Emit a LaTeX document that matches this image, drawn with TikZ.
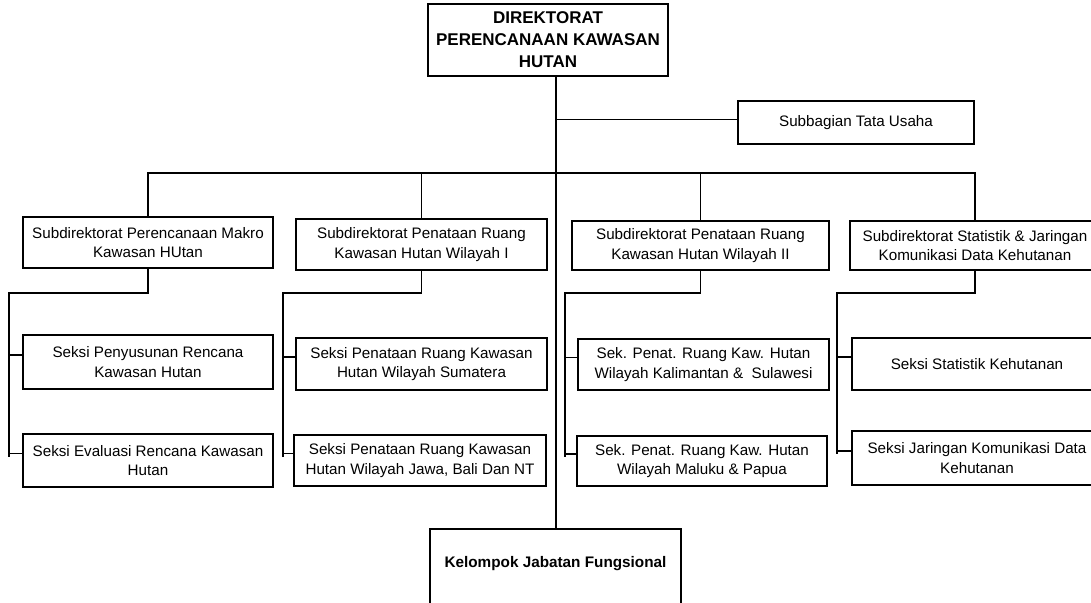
\documentclass[tikz,border=0pt]{standalone}
\usepackage{fontspec}
\setmainfont{Liberation Sans}
\begin{document}
\begin{tikzpicture}[x=1pt,y=-1pt,
  box/.style={draw, line width=1.2pt, inner sep=0pt, align=center,
    font=\fontsize{15.2}{19.8}\selectfont},
  topbox/.style={box, font=\fontsize{17}{22}\selectfont\bfseries},
  conn/.style={line width=1.2pt}]
\useasboundingbox (0,0) rectangle (1091,602);
% top
\node[topbox, minimum width=240pt, minimum height=72pt] (top) at (548,40) {DIREKTORAT\\PERENCANAAN KAWASAN\\HUTAN};
\node[box, minimum width=236pt, minimum height=43pt] (sub) at (856,122.5) {Subbagian Tata Usaha};
% subdirectorates
\node[box, minimum width=250pt, minimum height=51pt] (b1) at (148,242.5) {Subdirektorat Perencanaan Makro\\Kawasan HUtan};
\node[box, minimum width=251pt, minimum height=51pt] (b2) at (421.5,244.5) {Subdirektorat Penataan Ruang\\Kawasan Hutan Wilayah I};
\node[box, minimum width=257pt, minimum height=49pt] (b3) at (700.5,245.5) {Subdirektorat Penataan Ruang\\Kawasan Hutan Wilayah II};
\node[box, minimum width=250pt, minimum height=49pt] (b4) at (975,245.5) {Subdirektorat Statistik \& Jaringan\\Komunikasi Data Kehutanan};
% sections
\node[box, minimum width=250pt, minimum height=54pt] (s1a) at (148,362) {Seksi Penyusunan Rencana\\Kawasan Hutan};
\node[box, minimum width=250pt, minimum height=53pt] (s1b) at (148,460.5) {Seksi Evaluasi Rencana Kawasan\\Hutan};
\node[box, minimum width=251pt, minimum height=52pt] (s2a) at (421.5,364) {Seksi Penataan Ruang Kawasan\\Hutan Wilayah Sumatera};
\node[box, minimum width=252pt, minimum height=51pt] (s2b) at (420,460.5) {Seksi Penataan Ruang Kawasan\\Hutan Wilayah Jawa, Bali Dan NT};
\node[box, minimum width=251pt, minimum height=51pt] (s3a) at (703.5,364.5) {Sek. Penat. Ruang Kaw. Hutan\\Wilayah Kalimantan \&\ \ Sulawesi};
\node[box, minimum width=250pt, minimum height=50pt] (s3b) at (702,461) {Sek. Penat. Ruang Kaw. Hutan\\Wilayah Maluku \& Papua};
\node[box, minimum width=250pt, minimum height=52pt] (s4a) at (977,364) {Seksi Statistik Kehutanan};
\node[box, minimum width=250pt, minimum height=54pt] (s4b) at (977,458) {Seksi Jaringan Komunikasi Data\\Kehutanan};
% functional group (cut at bottom)
\node[draw, line width=1.2pt, inner sep=0pt, anchor=base, minimum width=251pt,
  text height=38pt, text depth=60pt, font=\fontsize{15.3}{18}\selectfont\bfseries]
  (kel) at (555.5,567) {Kelompok Jabatan Fungsional};
% connectors
\coordinate (sp) at (556,0);
\coordinate (bus) at (0,173);
\draw[conn] (top.south -| sp) -- (kel.north -| sp);
\coordinate (subt) at ([yshift=3pt]sub.west);
\draw[conn] (subt -| sp) -- (subt);
\draw[conn] (b1.north) |- (bus -| b4.north) -- (b4.north);
\draw[conn] (b2.north) -- (b2.north |- bus);
\draw[conn] (b3.north) -- (b3.north |- bus);
\coordinate (g1) at (9,293);
\coordinate (g2) at (283,293);
\coordinate (g3) at (565,293);
\coordinate (g4) at (837,293);
\foreach \b/\g/\sa/\sb in {b1/g1/s1a/s1b, b2/g2/s2a/s2b, b3/g3/s3a/s3b, b4/g4/s4a/s4b}{
  \coordinate (ta) at ([yshift=7pt]\sa.west);
  \coordinate (tb) at ([yshift=7pt]\sb.west);
  \coordinate (te) at ([yshift=4pt]\sb.west);
  \draw[conn] (\b.south) |- (\g) -- (\g |- te);
  \draw[conn] (\g |- ta) -- (ta);
  \draw[conn] (\g |- tb) -- (tb);
}
\end{tikzpicture}
\end{document}
